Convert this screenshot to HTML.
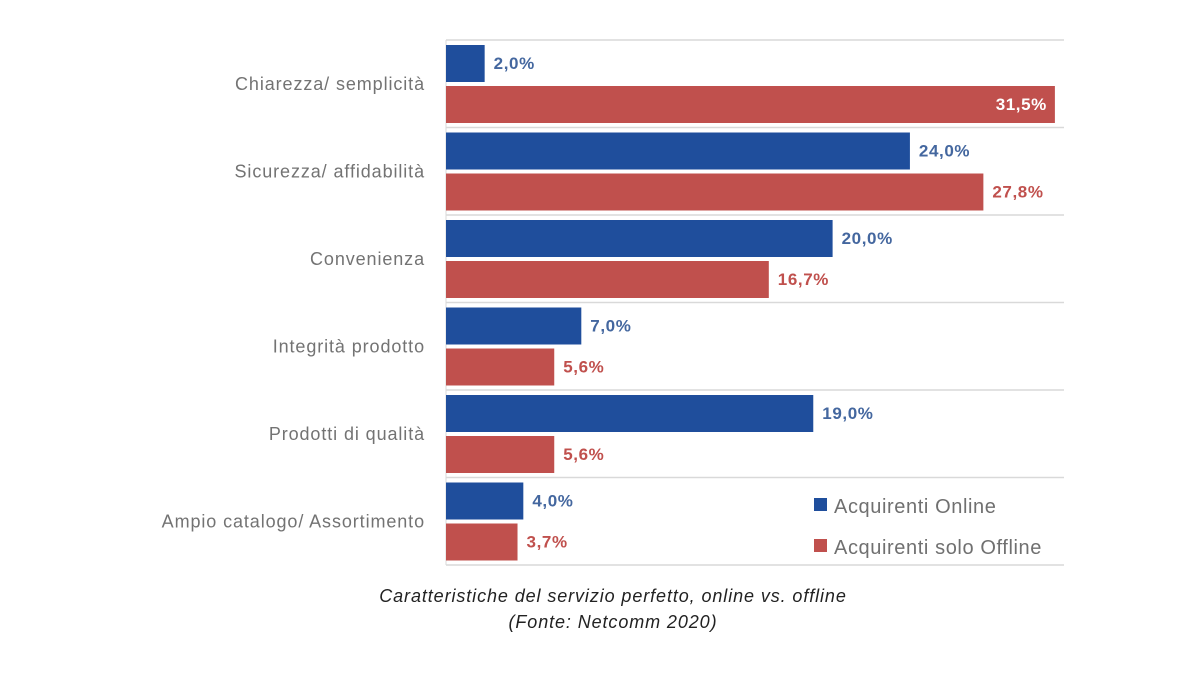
<!DOCTYPE html>
<html><head><meta charset="utf-8"><style>
html,body{margin:0;padding:0;background:#fff;}
svg{display:block;font-family:"Liberation Sans",sans-serif;}
</style></head><body>
<svg id="chart" width="1200" height="680" viewBox="0 0 1200 680">
<g id="grid"></g>
<g id="bars"></g>
<g id="labels"></g>
<g>
<rect x="814" y="498" width="13" height="13" fill="#1f4e9c"/>
<text x="834" y="513" font-size="20" letter-spacing="0.6" fill="#707070">Acquirenti Online</text>
<rect x="814" y="539" width="13" height="13" fill="#c0504d"/>
<text x="834" y="554" font-size="20" letter-spacing="0.6" fill="#707070">Acquirenti solo Offline</text>
</g>
<text x="613" y="602" font-size="18" letter-spacing="0.9" font-style="italic" text-anchor="middle" fill="#222">Caratteristiche del servizio perfetto, online vs. offline</text>
<text x="613" y="628" font-size="18" letter-spacing="0.9" font-style="italic" text-anchor="middle" fill="#222">(Fonte: Netcomm 2020)</text>
</svg>
<script>
const categories = ["Chiarezza/ semplicità","Sicurezza/ affidabilità","Convenienza","Integrità prodotto","Prodotti di qualità","Ampio catalogo/ Assortimento"];
const online = [2.0, 24.0, 20.0, 7.0, 19.0, 4.0];
const offline = [31.5, 27.8, 16.7, 5.6, 5.6, 3.7];
const NS = "http://www.w3.org/2000/svg";
const x0 = 446, pxPer = 19.33, topY = 40, step = 87.5, rightX = 1064;
function xs(v){ return x0 + v*pxPer; }
function mk(tag, attrs, parent){ const e=document.createElementNS(NS,tag); for(const k in attrs) e.setAttribute(k,attrs[k]); parent.appendChild(e); return e; }
const grid=document.getElementById('grid'), bars=document.getElementById('bars'), labels=document.getElementById('labels');
for(let i=0;i<=categories.length;i++){
  const l=mk('line',{x1:x0,x2:rightX,y1:topY+i*step,y2:topY+i*step,stroke:'#d9d9d9','stroke-width':1.5},grid);
  
  
}
const ax=mk('line',{x1:x0,x2:x0,y1:topY,y2:topY+categories.length*step,stroke:'#d9d9d9','stroke-width':1},grid);


function fmt(v){ return v.toFixed(1).replace('.',',')+'%'; }
categories.forEach((c,i)=>{
  const gy=topY+i*step;
  const t=mk('text',{x:425,y:gy+step/2+6,'font-size':18,'letter-spacing':0.9,fill:'#737373','text-anchor':'end'},labels);
  t.textContent=c;
  
  
  const by=gy+5, ry=gy+46, h=37;
  const b=mk('rect',{x:x0,y:by,width:xs(online[i])-x0,height:h,fill:'#1f4e9c'},bars);
  
  
  const r=mk('rect',{x:x0,y:ry,width:xs(offline[i])-x0,height:h,fill:'#c0504d'},bars);
  
  
  const bl=mk('text',{x:xs(online[i])+9,y:by+24,'font-size':17,'letter-spacing':0.6,'font-weight':'bold',fill:'#44679f'},labels);
  bl.textContent=fmt(online[i]);
  
  
  const inside = xs(offline[i])+70>rightX;
  const rl=mk('text',{x:inside?xs(offline[i])-8:xs(offline[i])+9,y:ry+24,'font-size':17,'letter-spacing':0.6,'font-weight':'bold',fill:inside?'#ffffff':'#c0504d','text-anchor':inside?'end':'start'},labels);
  rl.textContent=fmt(offline[i]);
  
  
});
</script>
</body></html>
